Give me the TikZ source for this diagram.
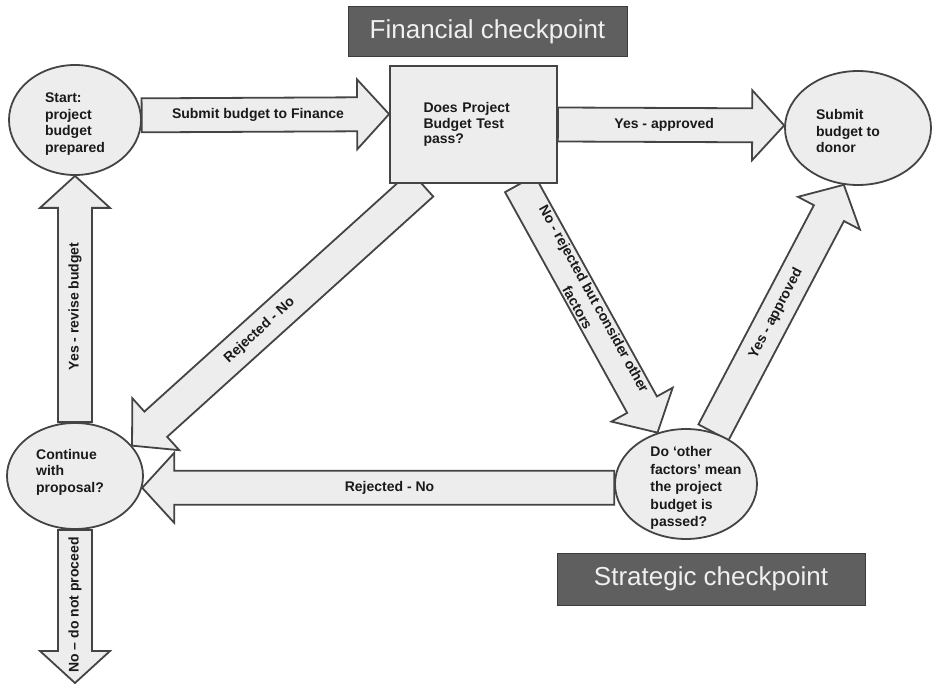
\documentclass[tikz,border=0pt]{standalone}
\usepackage{fontspec}
\setmainfont{Liberation Sans}
\usepackage{tikz}
\usetikzlibrary{calc,backgrounds,shapes.geometric}
\definecolor{flowink}{HTML}{444444}
\definecolor{flowfill}{HTML}{EDEDED}
\definecolor{flowtext}{HTML}{1A1A1A}
\definecolor{checkgray}{HTML}{5F5F5F}
\definecolor{checkedge}{HTML}{3C3C3C}

% block arrow from #2 (tail) to #3 (tip), label #4
\newcommand\fatarrow[4][]{%
  \draw[fatarrow] let \p1=($(#3)-(#2)$), \n1={atan2(\y1,\x1)}, \n2={veclen(\x1,\y1)} in
    [shift={(#2)},rotate=\n1]
    (0,-17) -- (\n2-32,-17) -- (\n2-32,-35) -- (\n2,0) -- (\n2-32,35) -- (\n2-32,17) -- (0,17) -- cycle;
  \path (#2) -- node[flowlabel,#1] {#4} (#3);
}

\begin{document}
\begin{tikzpicture}[
  x=1pt,y=-1pt,
  oval/.style={ellipse,draw=flowink,fill=flowfill,line width=1.8pt,inner sep=0pt},
  ovaltext/.style={font=\fontsize{14}{16.5}\selectfont\bfseries,text=flowtext,align=left,inner sep=0pt},
  decision/.style={draw=flowink,fill=flowfill,line width=1.8pt,minimum width=167pt,minimum height=117pt,
    text width=100pt,align=left,font=\fontsize{14}{15.5}\selectfont\bfseries,text=flowtext},
  checkpoint/.style={draw=checkedge,fill=checkgray,line width=1pt,text=white!94!black,
    font=\fontsize{26}{30}\selectfont},
  fatarrow/.style={draw=flowink,fill=flowfill,line width=1.8pt,line join=miter},
  flowlabel/.style={font=\fontsize{14}{19}\selectfont\bfseries,text=flowtext,align=center,inner sep=0pt}
]
\useasboundingbox (0,0) rectangle (932,687);

\node[checkpoint,minimum width=279pt,minimum height=50pt] (fin) at (487.5,32) {Financial checkpoint};
\node[checkpoint,minimum width=308pt,minimum height=52pt] (strat) at (711,579) {Strategic checkpoint};

\node[oval,minimum width=132pt,minimum height=110pt,
  label={[ovaltext,yshift=-4pt]center:{Start:\\project\\budget\\prepared}}] (start) at (75,120) {};
\node[decision] (test) at (473.5,124.5) {Does Project\\Budget Test\\pass?};
\node[oval,minimum width=146pt,minimum height=114pt,
  label={[ovaltext,xshift=-10pt,yshift=-3pt]center:{Submit\\budget to\\donor}}] (donor) at (858,128) {};
\node[oval,minimum width=136pt,minimum height=106pt,
  label={[ovaltext,xshift=-5pt,yshift=4pt]center:{Continue\\with\\proposal?}}] (cont) at (75,476) {};
\node[oval,minimum width=142pt,minimum height=110pt,
  label={[ovaltext,font=\fontsize{14}{17.6}\selectfont\bfseries,xshift=10pt,yshift=-4pt]center:{Do `other\\factors' mean\\the project\\budget is\\passed?}}] (other) at (686,484) {};
\coordinate (quit) at (75,683);

\begin{scope}[on background layer]
\fatarrow[pos=.47]{start.4}{test.173.5}{Submit budget to Finance}
\fatarrow[pos=.47]{test.0}{donor.178}{Yes - approved}
\fatarrow[sloped,pos=.56]{test.229}{cont.28}{Rejected - No}
\fatarrow[sloped,pos=.48]{test.308}{other.119}{No - rejected but consider other\\factors}
\fatarrow[sloped,pos=.48]{other.62}{donor.256}{Yes - approved}
\fatarrow[pos=.476]{other.183}{cont.350}{Rejected - No}
\fatarrow[rotate=90,pos=.47]{cont.90}{start.270}{Yes - revise budget}
\fatarrow[rotate=90,pos=.49]{cont.270}{quit}{No -- do not proceed}
\end{scope}
\end{tikzpicture}
\end{document}
